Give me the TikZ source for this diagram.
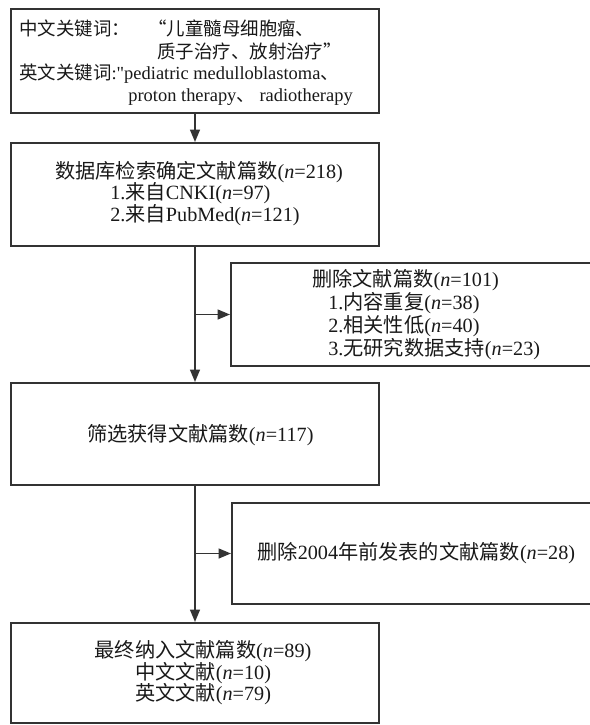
\documentclass[tikz,border=0pt]{standalone}
\usepackage{fontspec}
\setmainfont{Liberation Serif}
\newfontfamily\cjk{Noto Sans CJK SC}
\newfontfamily\plainserif{Liberation Serif}
\usetikzlibrary{arrows.meta,fit}
\newcommand{\zh}[1]{{\cjk #1}}
\newcommand{\numn}[1]{(\textit{n}=#1)}

\begin{document}
\begin{tikzpicture}[x=0.02cm,y=-0.02cm,
  box/.style={draw=black!80,line width=1.1pt,inner sep=0pt},
  arr/.style={draw=black!80,line width=1.1pt,-{Triangle[length=7pt,width=5.5pt]}},
  txt/.style={anchor=west,inner sep=0pt,text=black!90,font=\fontsize{11.5}{13}\selectfont},
  kw/.style={txt,font=\fontsize{10.5}{12}\selectfont}]
  \useasboundingbox (0,0) rectangle (590,725);
  \fill[white] (0,0) rectangle (590,725);
  \clip (0,0) rectangle (590,725);

  \node[box,fit={(11,9) (379,113)}] (keys) {};
  \node[kw] (kw1) at (19,28) {\zh{中文关键词：}};
  \node[kw] (kw2) at (148,28) {\zh{“儿童髓母细胞瘤、}};
  \node[kw] (kw3) at (157,51) {\zh{质子治疗、放射治疗”}};
  \node[kw] (kw4) at (19,74) {\zh{英文关键词}:{\plainserif"}pediatric medulloblastoma\zh{、}};
  \node[kw] (kw5) at (128,97) {proton therapy\zh{、} radiotherapy};

  \node[box,fit={(11,143) (379,246)}] (db) {};
  \node[txt] (db1) at (55,172) {\zh{数据库检索确定文献篇数}\numn{218}};
  \node[txt] (db2) at (110,193) {1.\zh{来自}CNKI\numn{97}};
  \node[txt] (db3) at (110,215) {2.\zh{来自}PubMed\numn{121}};

  \node[box,fit={(231,263) (620,366)}] (del1) {};
  \node[txt] (d1) at (312,280) {\zh{删除文献篇数}\numn{101}};
  \node[txt] (d2) at (328,303) {1.\zh{内容重复}\numn{38}};
  \node[txt] (d3) at (328,326) {2.\zh{相关性低}\numn{40}};
  \node[txt] (d4) at (328,349) {3.\zh{无研究数据支持}\numn{23}};

  \node[box,fit={(11,383) (379,485)}] (screen) {};
  \node[txt] (s1) at (87,435) {\zh{筛选获得文献篇数}\numn{117}};

  \node[box,fit={(232,503) (620,604)}] (del2) {};
  \node[txt] (e1) at (257,553) {\zh{删除}2004\zh{年前发表的文献篇数}\numn{28}};

  \node[box,fit={(11,623) (379,723)}] (final) {};
  \node[txt,anchor=center] (f1) at (203,651) {\zh{最终纳入文献篇数}\numn{89}};
  \node[txt,anchor=center] (f2) at (203,673) {\zh{中文文献}\numn{10}};
  \node[txt,anchor=center] (f3) at (203,694) {\zh{英文文献}\numn{79}};

  \draw[arr] (keys.south) -- (db.north);
  \draw[arr] (db.south) -- (screen.north);
  \draw[arr] (db.south |- del1.west) -- (del1.west);
  \draw[arr] (screen.south) -- (final.north);
  \draw[arr] (screen.south |- del2.west) -- (del2.west);
\end{tikzpicture}
\end{document}
